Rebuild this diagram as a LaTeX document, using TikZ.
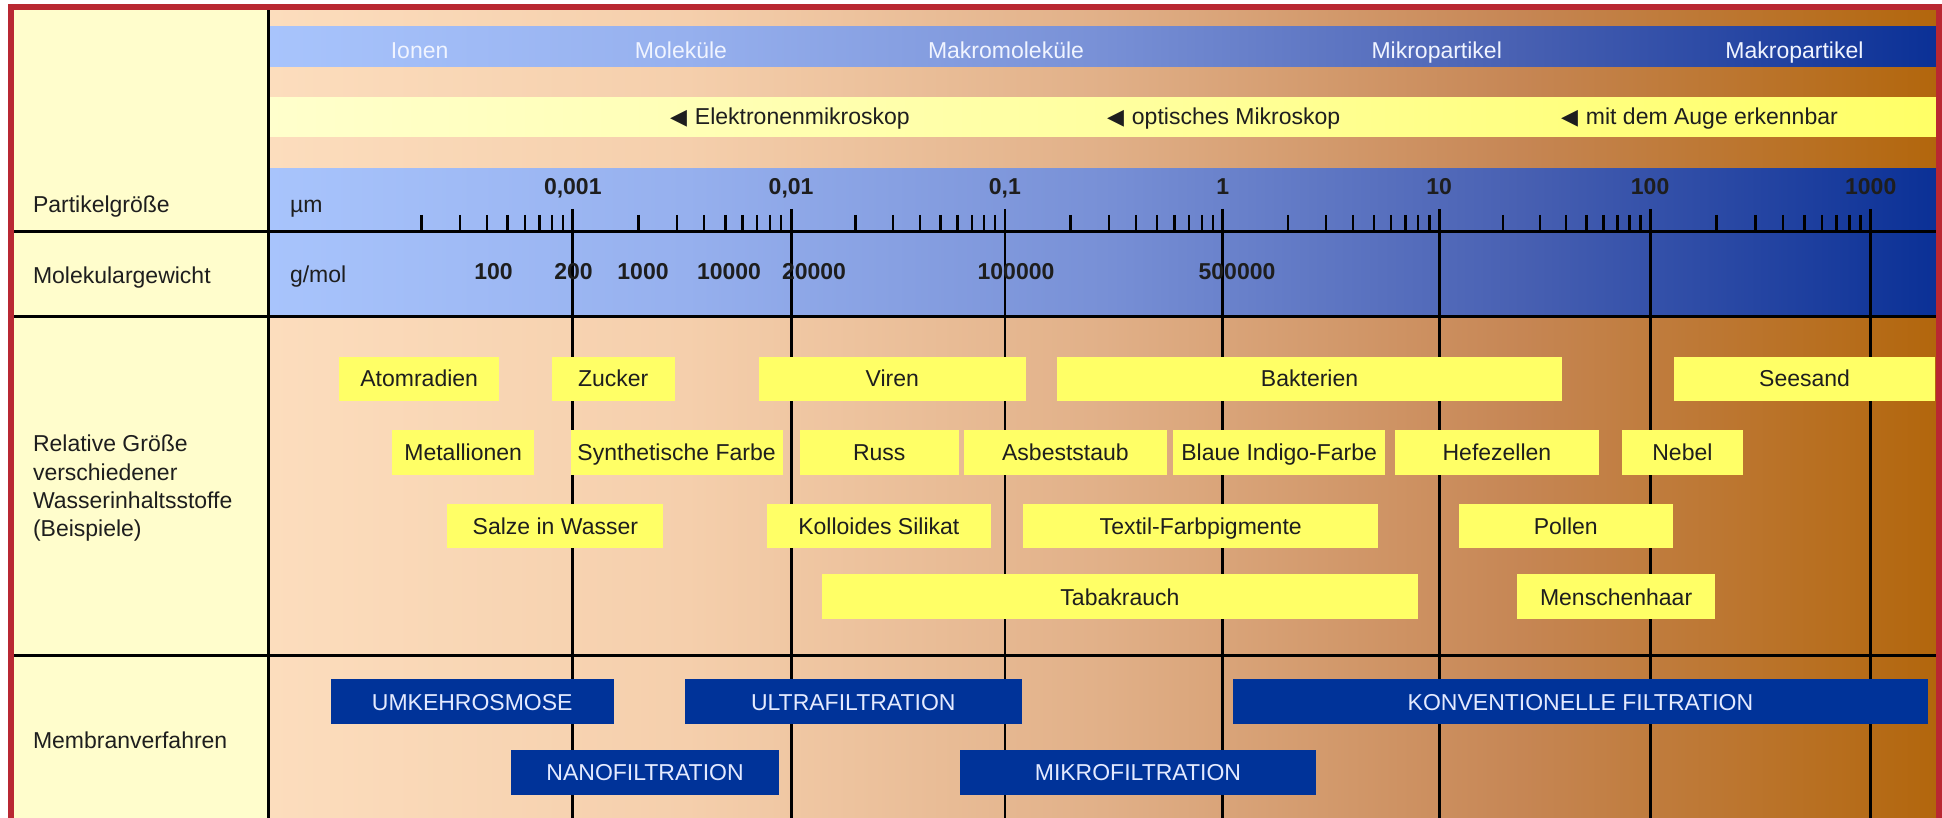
\documentclass[tikz,border=0pt]{standalone}
\usepackage{fontspec}
\setmainfont{Liberation Sans}
\newfontfamily\symfont{DejaVu Sans}
\definecolor{redframe}{RGB}{185,40,50}
\definecolor{leftcol}{RGB}{255,253,204}
\definecolor{txtdark}{RGB}{30,30,30}
\definecolor{pyellow}{RGB}{255,255,102}
\definecolor{mblue}{RGB}{0,51,153}
\definecolor{mtext}{RGB}{228,234,255}
\definecolor{btext}{RGB}{240,244,255}
\definecolor{pc0}{RGB}{252,221,189}
\definecolor{pc1}{RGB}{245,207,172}
\definecolor{pc2}{RGB}{225,176,136}
\definecolor{pc3}{RGB}{198,134,84}
\definecolor{pc4}{RGB}{178,102,12}
\definecolor{bc0}{RGB}{168,196,252}
\definecolor{bc1}{RGB}{150,176,238}
\definecolor{bc2}{RGB}{120,144,214}
\definecolor{bc3}{RGB}{72,96,178}
\definecolor{bc4}{RGB}{10,48,150}
\definecolor{yc0}{RGB}{255,255,204}
\definecolor{yc1}{RGB}{255,255,160}
\definecolor{yc2}{RGB}{255,255,102}
\pgfdeclarehorizontalshading{peachsh}{100bp}{color(0bp)=(pc0); color(25bp)=(pc0); color(37.5bp)=(pc1); color(50bp)=(pc2); color(62.5bp)=(pc3); color(75bp)=(pc4); color(100bp)=(pc4)}
\pgfdeclarehorizontalshading{bluesh}{100bp}{color(0bp)=(bc0); color(25bp)=(bc0); color(37.5bp)=(bc1); color(50bp)=(bc2); color(62.5bp)=(bc3); color(75bp)=(bc4); color(100bp)=(bc4)}
\pgfdeclarehorizontalshading{yellowsh}{100bp}{color(0bp)=(yc0); color(25bp)=(yc0); color(50bp)=(yc1); color(75bp)=(yc2); color(100bp)=(yc2)}
\newcommand\partbox[6]{%
  \node[pbox, minimum width={(#3-#2)*0.5pt}, minimum height={(#5-#4)*0.5pt}] (#1) at ({(#2+#3)/2},{(#4+#5)/2}) {#6};}
\newcommand\membox[6]{%
  \node[mbox, minimum width={(#3-#2)*0.5pt}, minimum height={(#5-#4)*0.5pt}] (#1) at ({(#2+#3)/2},{(#4+#5)/2}) {#6};}
\newcommand\tri{{\symfont\fontsize{11}{11}\selectfont ◀}\hspace{4pt}}
\begin{document}
\begin{tikzpicture}[x=0.5pt,y=-0.5pt,
  every node/.style={font=\fontsize{11.5}{14}\selectfont, inner sep=0pt, outer sep=0pt, text=txtdark},
  pbox/.style={fill=pyellow, text height=8.2pt, text depth=0pt},
  mbox/.style={fill=mblue, text=mtext, text height=8.2pt, text depth=0pt},
  rowlab/.style={anchor=base west},
  bandlab/.style={anchor=base, text=btext},
  band2lab/.style={anchor=base west},
  boldlab/.style={anchor=base, font=\fontsize{11.5}{14}\selectfont\bfseries},
  hline/.style={line width=1.5pt, black},
  vline/.style={line width=1.4pt, black},
  tickline/.style={line width=1.2pt, black},
  frame/.style={line width=2.75pt, draw=redframe}]
\useasboundingbox (0,0) rectangle (1942,818);
\clip (0,0) rectangle (1942,818);
\fill[white] (0,0) rectangle (1942,818);
% backgrounds
\fill[leftcol] (11,7) rectangle (268,830);
\shade[shading=peachsh] (268,7) rectangle (1939,830);
\shade[shading=bluesh] (268,27) rectangle (1939,67);
\shade[shading=yellowsh] (268,98) rectangle (1939,137);
\shade[shading=bluesh] (268,169) rectangle (1939,316);
% minor ticks
\foreach \a/\b in {356.5/572.8, 572.8/791.1, 791.1/1004.9, 1004.9/1222.8, 1222.8/1439.2, 1439.2/1650.1, 1650.1/1870.7}
  \foreach \l in {0.30103,0.47712,0.60206,0.69897,0.77815,0.84510,0.90309,0.95424}
    \draw[tickline] ({\a+(\b-\a)*\l},215) -- ({\a+(\b-\a)*\l},232);
% decade lines and labels
\foreach \x/\t [count=\i] in {572.8/{0,001}, 791.1/{0,01}, 1004.9/{0,1}, 1222.8/{1}, 1439.2/{10}, 1650.1/{100}, 1870.7/{1000}} {
  \draw[vline] (\x,209) -- (\x,830);
  \node[boldlab] (s\i) at (\x,195) {\t};
}
% grid lines
\draw[vline] (268.5,7) -- (268.5,830);
\draw[hline] (11,232) -- (1939,232);
\draw[hline] (11,316) -- (1939,316);
\draw[hline] (11,655) -- (1939,655);
% band 1
\node[bandlab] (ionen) at (419.6,59) {Ionen};
\node[bandlab] (molek) at (681,59) {Moleküle};
\node[bandlab] (makromol) at (1006,59) {Makromoleküle};
\node[bandlab] (mikrop) at (1436.7,59) {Mikropartikel};
\node[bandlab] (makrop) at (1794.4,59) {Makropartikel};
% band 2
\node[band2lab] (elek) at (670,124.3) {\tri Elektronenmikroskop};
\node[band2lab] (opt) at (1107,124.3) {\tri optisches Mikroskop};
\node[band2lab] (auge) at (1561,124.3) {\tri mit dem Auge erkennbar};
% axis units
\node[rowlab] (um) at (290,213) {µm};
\node[rowlab] (gmol) at (290,283) {g/mol};
% molecular weights
\node[boldlab] (w1) at (493.6,279.3) {100};
\node[boldlab] (w2) at (573.5,279.3) {200};
\node[boldlab] (w3) at (643,279.3) {1000};
\node[boldlab] (w4) at (729,279.3) {10000};
\node[boldlab] (w5) at (814,279.3) {20000};
\node[boldlab] (w6) at (1016,279.3) {100000};
\node[boldlab] (w7) at (1237,279.3) {500000};
% left column labels
\node[rowlab] (lpart) at (33,212.3) {Partikelgröße};
\node[rowlab] (lmol) at (33,283.3) {Molekulargewicht};
\node[rowlab] (rel1) at (33,451.7) {Relative Größe};
\node[rowlab] (rel2) at (33,480) {verschiedener};
\node[rowlab] (rel3) at (33,508.2) {Wasserinhaltsstoffe};
\node[rowlab] (rel4) at (33,536.3) {(Beispiele)};
\node[rowlab] (lmem) at (33,748.7) {Membranverfahren};
% particle boxes
\partbox{atom}{339.3}{499.1}{356.5}{401}{Atomradien}
\partbox{zucker}{551.8}{674.6}{356.5}{401}{Zucker}
\partbox{viren}{758.5}{1025.9}{356.5}{401}{Viren}
\partbox{bakt}{1057.1}{1562}{356.5}{401}{Bakterien}
\partbox{seesand}{1673.8}{1935.4}{356.5}{401}{Seesand}
\partbox{metall}{392}{534.4}{430}{474.7}{Metallionen}
\partbox{synth}{570.5}{782.6}{430}{474.7}{Synthetische Farbe}
\partbox{russ}{799.6}{958.9}{430}{474.7}{Russ}
\partbox{asbest}{963.8}{1167}{430}{474.7}{Asbeststaub}
\partbox{indigo}{1173.2}{1385.2}{430}{474.7}{Blaue Indigo-Farbe}
\partbox{hefe}{1395}{1598.9}{430}{474.7}{Hefezellen}
\partbox{nebel}{1621.8}{1743}{430}{474.7}{Nebel}
\partbox{salze}{447.3}{663.4}{503.7}{548.3}{Salze in Wasser}
\partbox{koll}{767}{990.6}{503.7}{548.3}{Kolloides Silikat}
\partbox{textil}{1023.2}{1378.2}{503.7}{548.3}{Textil-Farbpigmente}
\partbox{pollen}{1458.9}{1672.6}{503.7}{548.3}{Pollen}
\partbox{tabak}{821.9}{1417.9}{574.3}{619.3}{Tabakrauch}
\partbox{haar}{1517}{1715.2}{574.3}{619.3}{Menschenhaar}
% membrane boxes
\membox{umk}{331}{613.5}{679.3}{724.3}{UMKEHROSMOSE}
\membox{ultra}{685}{1021.5}{679.3}{724.3}{ULTRAFILTRATION}
\membox{konv}{1232.8}{1928.1}{679.3}{724.3}{KONVENTIONELLE FILTRATION}
\membox{nano}{510.8}{779.3}{750}{795.3}{NANOFILTRATION}
\membox{mikro}{959.5}{1316.3}{750}{795.3}{MIKROFILTRATION}
% red frame
\draw[frame] (11,7) rectangle (1939,860);
\end{tikzpicture}
\end{document}
